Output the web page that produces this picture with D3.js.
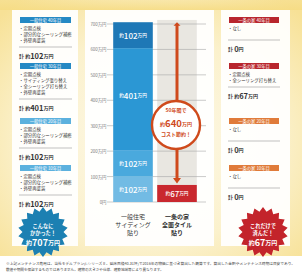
<!DOCTYPE html>
<html>
<head>
<meta charset="utf-8">
<script src="https://cdn.jsdelivr.net/npm/d3@7"></script>
<style>
  html, body { margin: 0; padding: 0; background: #fff; }
  svg { display: block; font-family: "Noto Sans CJK JP", "Noto Sans", sans-serif; }
</style>
</head>
<body>
<div id="chart"></div>
<script>
// --- Data ---
const axisTicks = [0, 100, 200, 300, 400, 500, 600, 700];
const categories = ["一般住宅", "一条の家"];
const categoryLabels = [["一般住宅", "サイディング", "貼り"], ["一条の家", "全面タイル", "貼り"]];
const years = ["10年目", "20年目", "30年目", "40年目"];
const ippanCosts = [102, 102, 401, 102];
const ichijoCosts = [0, 0, 67, 0];
const ippanTotal = 707;
const ichijoTotal = 67;
const savingTotal = 640;

const ippanItems = [
    ["・定期点検", "・部分的なシーリング補修", "・外壁再塗装"],
    ["・定期点検", "・部分的なシーリング補修", "・外壁再塗装"],
    ["・定期点検", "・サイディング張り替え", "・全シーリング打ち替え", "・外壁再塗装"],
    ["・定期点検", "・部分的なシーリング補修", "・外壁再塗装"]
];
const ichijoItems = [
    ["・なし"],
    ["・なし"],
    ["・定期点検", "・全シーリング打ち替え"],
    ["・なし"]
];
const footnotes = [
    "※上記メンテナンス費用は、当社モデルプラン(i-シリーズⅡ、延床面積40.31坪)で2016年の物価に基づき算出した概算です。算出した金額やメンテナンス時期は目安であり、",
    "数値や期間を保証するものではありません。建物の大きさや仕様、建築地域等により異なります。"
];

// --- Canvas ---
const W = 302, H = 274;
const svg = d3.select("#chart").append("svg").attr("width", W).attr("height", H);
const defs = svg.append("defs");

const bg = defs.append("radialGradient").attr("id", "bg").attr("cx", "50%").attr("cy", "55%").attr("r", "70%");
bg.append("stop").attr("offset", "0%").attr("stop-color", "#fdf9ea");
bg.append("stop").attr("offset", "60%").attr("stop-color", "#fbf1cc");
bg.append("stop").attr("offset", "100%").attr("stop-color", "#f7e196");
svg.append("rect").attr("x", 0).attr("y", 0).attr("width", W).attr("height", 256).attr("fill", "url(#bg)");
const topBand = defs.append("linearGradient").attr("id", "topBand").attr("x1", 0).attr("y1", 0).attr("x2", 0).attr("y2", 1);
topBand.append("stop").attr("offset", "0%").attr("stop-color", "#f6dc84").attr("stop-opacity", 0.2);
topBand.append("stop").attr("offset", "100%").attr("stop-color", "#f6dc84").attr("stop-opacity", 0.9);
svg.append("rect").attr("x", 0).attr("y", 0).attr("width", W).attr("height", 10).attr("fill", "url(#topBand)");

// white cards
const cards = [[12, 78], [85, 214], [221, 290]];
svg.selectAll("rect.card").data(cards).join("rect")
    .attr("class", "card")
    .attr("x", d => d[0]).attr("y", 10)
    .attr("width", d => d[1] - d[0]).attr("height", 236)
    .attr("fill", "#ffffff").attr("opacity", 0.93);

// --- Scales ---
const y = d3.scaleLinear().domain([0, 700]).range([202, 24]);
const x = d3.scaleBand().domain(categories).range([111, 199]).paddingInner(0.1).paddingOuter(0.05);

// gray column behind 一条の家
svg.append("rect")
    .attr("x", x("一条の家")).attr("y", y(716))
    .attr("width", x.bandwidth()).attr("height", y(0) - y(716))
    .attr("fill", "#e9e7e1");

// gridlines + tick labels
const grid = svg.append("g");
grid.selectAll("line").data(axisTicks).join("line")
    .attr("x1", 107).attr("x2", 206)
    .attr("y1", d => y(d)).attr("y2", d => y(d))
    .attr("stroke", "#a8a8a8").attr("stroke-width", 0.6);
grid.selectAll("text").data(axisTicks).join("text")
    .attr("x", 106.5).attr("y", d => y(d))
    .attr("text-anchor", "end").attr("dominant-baseline", "central")
    .attr("font-size", 4.4).attr("fill", "#777")
    .text(d => d === 0 ? "0円" : d + "万円");

// --- Stacked bars ---
const ippanColors = ["#72bbe4", "#4aa9dd", "#2b97d4", "#1e78b6"];
const stack = [];
let acc = 0;
ippanCosts.forEach((v, i) => { stack.push({ cat: "一般住宅", y0: acc, y1: acc + v, v, color: ippanColors[i] }); acc += v; });
acc = 0;
ichijoCosts.forEach((v, i) => { if (v > 0) stack.push({ cat: "一条の家", y0: acc, y1: acc + v, v, color: "#c9282e" }); acc += v; });

svg.selectAll("rect.seg").data(stack).join("rect")
    .attr("class", "seg")
    .attr("x", d => x(d.cat)).attr("y", d => y(d.y1))
    .attr("width", x.bandwidth()).attr("height", d => y(d.y0) - y(d.y1))
    .attr("fill", d => d.color);

const segLabels = svg.selectAll("text.seg").data(stack).join("text")
    .attr("class", "seg")
    .attr("x", d => x(d.cat) + x.bandwidth() / 2)
    .attr("y", d => (y(d.y0) + y(d.y1)) / 2 + (d.v > 200 ? -4 : 0))
    .attr("text-anchor", "middle").attr("dominant-baseline", "central")
    .attr("fill", "#fff").attr("font-weight", 500);
segLabels.append("tspan").attr("font-size", 4.6).text("約");
segLabels.append("tspan").attr("font-size", 8).text(d => d.v);
segLabels.append("tspan").attr("font-size", 4.6).text("万円");

// --- Arrow from total to total ---
const ax = x("一条の家") + x.bandwidth() / 2;
const arrowColor = "#cf4a1c";
svg.append("line")
    .attr("x1", ax).attr("x2", ax)
    .attr("y1", y(ippanTotal) + 2).attr("y2", y(ichijoTotal) - 6)
    .attr("stroke", arrowColor).attr("stroke-width", 3);
svg.append("path")
    .attr("d", `M${ax - 3.5},${y(ippanTotal) + 3.5} L${ax},${y(ippanTotal)} L${ax + 3.5},${y(ippanTotal) + 3.5} Z`)
    .attr("fill", arrowColor);
svg.append("path")
    .attr("d", `M${ax - 4},${y(ichijoTotal) - 7} L${ax + 4},${y(ichijoTotal) - 7} L${ax},${y(ichijoTotal) - 1.5} Z`)
    .attr("fill", arrowColor);

// saving circle
const cx = 176, cy = 125;
svg.append("circle").attr("cx", cx).attr("cy", cy).attr("r", 24)
    .attr("fill", "#fff").attr("stroke", arrowColor).attr("stroke-width", 2.4);
const circText = svg.append("g").attr("fill", arrowColor).attr("font-weight", 700).attr("text-anchor", "middle");
circText.append("text").attr("x", cx).attr("y", cy - 16).attr("dominant-baseline", "central").attr("font-size", 5).text("50年間で");
const mid = circText.append("text").attr("x", cx).attr("y", cy - 2.5).attr("dominant-baseline", "central");
mid.append("tspan").attr("font-size", 5).text("約");
mid.append("tspan").attr("font-size", 9.5).text(savingTotal);
mid.append("tspan").attr("font-size", 5).text("万円");
circText.append("text").attr("x", cx).attr("y", cy + 8).attr("dominant-baseline", "central").attr("font-size", 5).text("コスト節約！");

// category labels under bars
categoryLabels.forEach((lines, i) => {
    svg.append("g").selectAll("text").data(lines).join("text")
        .attr("x", x(categories[i]) + x.bandwidth() / 2)
        .attr("y", (d, j) => 216 + j * 8)
        .attr("text-anchor", "middle").attr("dominant-baseline", "central")
        .attr("font-size", 6).attr("fill", "#333")
        .attr("font-weight", i === 1 ? 700 : 400)
        .text(d => d);
});

// --- Side cards ---
function drawCard(opts) {
    const g = svg.append("g");
    opts.blocks.forEach(b => {
        g.append("rect")
            .attr("x", opts.x0 + 1).attr("y", b.hy - 3)
            .attr("width", opts.x1 - opts.x0 - 1).attr("height", 6)
            .attr("fill", b.color);
        g.append("text")
            .attr("x", (opts.x0 + opts.x1) / 2 + 0.5).attr("y", b.hy)
            .attr("text-anchor", "middle").attr("dominant-baseline", "central")
            .attr("font-size", 4.3).attr("fill", "#fff")
            .text(`${opts.name}  ${b.year}`);
        g.selectAll(null).data(b.items).join("text")
            .attr("x", opts.x0).attr("y", (d, j) => b.hy + 8 + j * 6)
            .attr("dominant-baseline", "central")
            .attr("font-size", 4.4).attr("fill", "#333")
            .text(d => d);
        const ly = Math.max(b.hy + 8 + (b.items.length - 1) * 6 + 7, b.hy + 20);
        g.append("line")
            .attr("x1", opts.x0).attr("x2", opts.x1 + 1)
            .attr("y1", ly).attr("y2", ly)
            .attr("stroke", "#999").attr("stroke-width", 0.6);
        const t = g.append("text").attr("x", opts.x0).attr("y", ly + 7.5)
            .attr("dominant-baseline", "central").attr("fill", "#333").attr("font-weight", 700);
        t.append("tspan").attr("font-size", 5).text(b.cost > 0 ? "計 約" : "計 ");
        t.append("tspan").attr("font-size", 7.5).text(b.cost);
        t.append("tspan").attr("font-size", 5).text(b.cost > 0 ? "万円" : "円");
    });
}

const headerYs = [168, 121, 66, 20];
drawCard({
    name: "一般住宅", x0: 19, x1: 71,
    blocks: years.map((yr, i) => ({ year: yr, cost: ippanCosts[i], items: ippanItems[i], hy: headerYs[i], color: i >= 2 ? "#2589c4" : "#5cb1de" }))
});
drawCard({
    name: "一条の家", x0: 228, x1: 279,
    blocks: years.map((yr, i) => ({ year: yr, cost: ichijoCosts[i], items: ichijoItems[i], hy: headerYs[i], color: i >= 2 ? "#b8262d" : "#e07b3a" }))
});

// --- Starbursts ---
function burst(cx, cy, color, lines, total) {
    const n = 18;
    const pts = d3.range(n * 2).map(i => {
        const a = Math.PI * i / n;
        const r = i % 2 === 0 ? 25 : 20.5;
        return [a, r];
    });
    svg.append("path")
        .attr("transform", `translate(${cx},${cy})`)
        .attr("d", d3.lineRadial().curve(d3.curveLinearClosed)(pts))
        .attr("fill", color);
    svg.append("g").selectAll("text").data(lines).join("text")
        .attr("x", cx).attr("y", (d, j) => cy - 7 + j * 7)
        .attr("text-anchor", "middle").attr("dominant-baseline", "central")
        .attr("font-size", 5.2).attr("font-weight", 700).attr("fill", "#fff")
        .text(d => d);
    const t = svg.append("text").attr("x", cx).attr("y", cy + 10)
        .attr("text-anchor", "middle").attr("dominant-baseline", "central")
        .attr("font-weight", 700).attr("fill", "#fff");
    t.append("tspan").attr("font-size", 6).text("約");
    t.append("tspan").attr("font-size", 9).text(total);
    t.append("tspan").attr("font-size", 6).text("万円");
}
burst(43, 232, "#1c80b2", ["こんなに", "かかった！"], ippanTotal);
burst(263, 232, "#c3242b", ["これだけで", "済んだ！"], ichijoTotal);

// --- Footnotes ---
svg.append("text").attr("x", 6).attr("y", 263).attr("dominant-baseline", "central")
    .attr("font-size", 3.2).attr("fill", "#444")
    .attr("textLength", 289).attr("lengthAdjust", "spacingAndGlyphs")
    .text(footnotes[0]);
svg.append("text").attr("x", 6).attr("y", 269.5).attr("dominant-baseline", "central")
    .attr("font-size", 3.6).attr("fill", "#444")
    .text(footnotes[1]);
</script>
</body>
</html>
